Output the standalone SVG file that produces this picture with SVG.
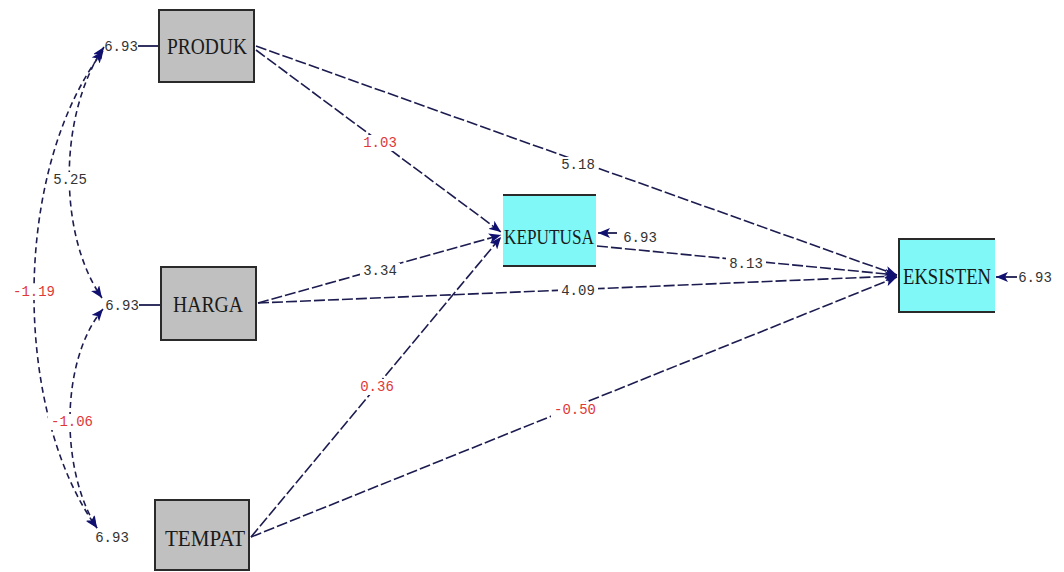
<svg xmlns="http://www.w3.org/2000/svg" width="1064" height="572" viewBox="0 0 1064 572">
  <style>
    .bg { fill: #ffffff; }
    .obs { fill: #c0c0c0; stroke: #2a2a2a; stroke-width: 2; }
    .lat { fill: #80f8f8; }
    .edge { stroke: #2a2a2a; stroke-width: 2; fill: none; }
    .name { font-family: "Liberation Serif", "DejaVu Serif", serif; font-size: 24px; fill: #1a1a1a; text-anchor: middle; }
    .tight { font-size: 20px; }
    .path { fill: none; stroke: #1c1c50; stroke-width: 1.6; stroke-dasharray: 11 3; }
    .cov { fill: none; stroke: #1c1c50; stroke-width: 1.6; stroke-dasharray: 6 4; }
    .err { fill: none; stroke: #1c1c50; stroke-width: 1.8; }
    .gap { fill: #ffffff; }
    .num { font-family: "Liberation Mono", "DejaVu Sans Mono", monospace; font-size: 14px; fill: #333333; text-anchor: middle; }
    .red { fill: #e03838; }
  </style>
  <defs>
    <marker id="head" markerUnits="userSpaceOnUse" markerWidth="13" markerHeight="10" refX="12" refY="5" orient="auto-start-reverse">
      <path d="M0,0 L12,5 L0,10 L3,5 z" fill="#101070"/>
    </marker>
  </defs>

  <rect class="bg" x="0" y="0" width="1064" height="572"/>

  <!-- structural paths and covariances -->
  <g id="connectors">
    <path class="path" d="M256,50 L501,232" marker-end="url(#head)"/>
    <path class="path" d="M256,46 L897,275" marker-end="url(#head)"/>
    <path class="path" d="M258,303 L501,235" marker-end="url(#head)"/>
    <path class="path" d="M258,303 L897,276" marker-end="url(#head)"/>
    <path class="path" d="M251,537 L501,237" marker-end="url(#head)"/>
    <path class="path" d="M251,537 L897,277" marker-end="url(#head)"/>
    <path class="path" d="M597,246 L897,275" marker-end="url(#head)"/>

    <!-- covariances among the exogenous variables -->
    <path class="cov" d="M104,47 C58,115 58,235 102,298" marker-start="url(#head)" marker-end="url(#head)"/>
    <path class="cov" d="M103,51 C12,170 12,410 97,528" marker-start="url(#head)" marker-end="url(#head)"/>
    <path class="cov" d="M103,309 C60,360 60,470 97,528" marker-start="url(#head)" marker-end="url(#head)"/>

    <!-- error / variance ticks -->
    <line class="err" x1="138" y1="46" x2="159" y2="46"/>
    <line class="err" x1="139" y1="305" x2="161" y2="305"/>
    <line class="err" x1="617" y1="233" x2="598" y2="233" marker-end="url(#head)"/>
    <line class="err" x1="1017" y1="277" x2="996" y2="277" marker-end="url(#head)"/>

    <!-- blank space behind coefficient labels -->
    <rect class="gap" x="360" y="135" width="40" height="16"/>
    <rect class="gap" x="558" y="157" width="40" height="16"/>
    <rect class="gap" x="360" y="263" width="40" height="16"/>
    <rect class="gap" x="558" y="283" width="40" height="16"/>
    <rect class="gap" x="726" y="256" width="40" height="16"/>
    <rect class="gap" x="357" y="379" width="40" height="16"/>
    <rect class="gap" x="551" y="402" width="48" height="16"/>
    <rect class="gap" x="50" y="172" width="40" height="16"/>
    <rect class="gap" x="10" y="284" width="48" height="16"/>
    <rect class="gap" x="48" y="414" width="48" height="16"/>

    <!-- coefficient labels -->
    <text class="num red" x="380" y="147">1.03</text>
    <text class="num" x="578" y="169">5.18</text>
    <text class="num" x="380" y="275">3.34</text>
    <text class="num" x="578" y="295">4.09</text>
    <text class="num" x="746" y="268">8.13</text>
    <text class="num red" x="377" y="391">0.36</text>
    <text class="num red" x="575" y="414">-0.50</text>
    <text class="num" x="70" y="184">5.25</text>
    <text class="num red" x="34" y="296">-1.19</text>
    <text class="num red" x="72" y="426">-1.06</text>
  </g>

  <g id="produk">
    <rect class="obs" x="159" y="10" width="95" height="72"/>
    <text class="name" x="207" y="54" textLength="80" lengthAdjust="spacingAndGlyphs">PRODUK</text>
    <text class="num" x="121" y="51">6.93</text>
  </g>

  <g id="harga">
    <rect class="obs" x="161" y="267" width="95" height="73"/>
    <text class="name" x="208" y="312" textLength="70" lengthAdjust="spacingAndGlyphs">HARGA</text>
    <text class="num" x="122" y="310">6.93</text>
  </g>

  <g id="tempat">
    <rect class="obs" x="155" y="500" width="94" height="70"/>
    <text class="name" x="205" y="546" textLength="80" lengthAdjust="spacingAndGlyphs">TEMPAT</text>
    <text class="num" x="112" y="542">6.93</text>
  </g>

  <g id="keputusa">
    <rect class="lat" x="503" y="195" width="93" height="71"/>
    <line class="edge" x1="503" y1="195" x2="596" y2="195"/>
    <line class="edge" x1="503" y1="266" x2="596" y2="266"/>
    <text class="name tight" x="549" y="244" textLength="90" lengthAdjust="spacingAndGlyphs">KEPUTUSA</text>
    <text class="num" x="640" y="242">6.93</text>
  </g>

  <g id="eksisten">
    <rect class="lat" x="899" y="239" width="96" height="73"/>
    <path class="edge" d="M995,239 L899,239 L899,312 L995,312"/>
    <text class="name" x="947" y="284" textLength="88" lengthAdjust="spacingAndGlyphs">EKSISTEN</text>
    <text class="num" x="1035" y="282">6.93</text>
  </g>
</svg>
